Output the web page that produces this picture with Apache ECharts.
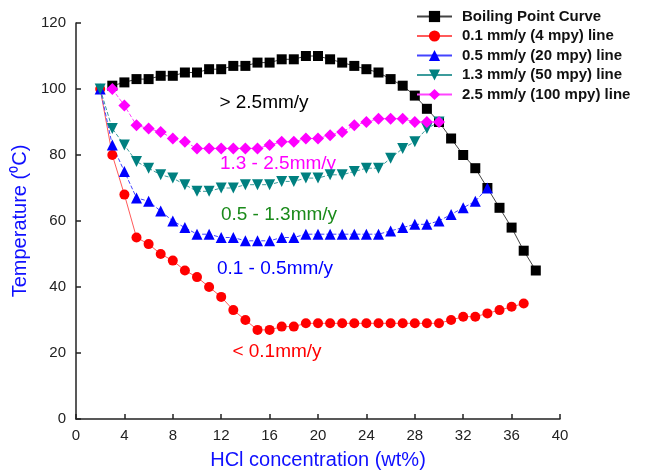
<!DOCTYPE html>
<html>
<head>
<meta charset="utf-8">
<script src="https://cdn.jsdelivr.net/npm/echarts@6/dist/echarts.min.js"></script>
<style>
html,body{margin:0;padding:0;background:#fff;}
#chart{width:646px;height:475px;}
</style>
</head>
<body>
<div id="chart"></div>
<script>
// ---- data ----
var seriesNames = ['Boiling Point Curve', '0.1 mm/y (4 mpy) line', '0.5 mm/y (20 mpy) line', '1.3 mm/y (50 mpy) line', '2.5 mm/y (100 mpy) line'];

var boilX = [3,4,5,6,7,8,9,10,11,12,13,14,15,16,17,18,19,20,21,22,23,24,25,26,27,28,29,30,31,32,33,34,35,36,37,38];
var boilY = [101,102,103,103,104,104,105,105,106,106,107,107,108,108,109,109,110,110,109,108,107,106,105,103,101,98,94,90,85,80,76,70,64,58,51,45];

var redX = [2,3,4,5,6,7,8,9,10,11,12,13,14,15,16,17,18,19,20,21,22,23,24,25,26,27,28,29,30,31,32,33,34,35,36,37];
var redY = [100,80,68,55,53,50,48,45,43,40,37,33,30,27,27,28,28,29,29,29,29,29,29,29,29,29,29,29,29,30,31,31,32,33,34,35];

var blueX = [2,3,4,5,6,7,8,9,10,11,12,13,14,15,16,17,18,19,20,21,22,23,24,25,26,27,28,29,30,31,32,33,34];
var blueY = [100,83,75,67,66,63,60,58,56,56,55,55,54,54,54,55,55,56,56,56,56,56,56,56,57,58,59,59,60,62,64,66,70];

var tealX = [2,3,4,5,6,7,8,9,10,11,12,13,14,15,16,17,18,19,20,21,22,23,24,25,26,27,28,29,30];
var tealY = [100,88,83,78,76,74,73,71,69,69,70,70,71,71,71,72,72,73,73,74,74,75,76,76,79,82,84,88,90];

var magX = [3,4,5,6,7,8,9,10,11,12,13,14,15,16,17,18,19,20,21,22,23,24,25,26,27,28,29,30];
var magY = [100,95,89,88,87,85,84,82,82,82,82,82,82,83,84,84,85,85,86,87,89,90,91,91,91,90,90,90];

var xTicks = [0,4,8,12,16,20,24,28,32,36,40];
var yTicks = [0,20,40,60,80,100,120];

var regionLabels = ['> 2.5mm/y', '1.3 - 2.5mm/y', '0.5 - 1.3mm/y', '0.1 - 0.5mm/y', '< 0.1mm/y'];

function pairs(xs, ys){ var out=[]; for(var i=0;i<xs.length;i++){ out.push([xs[i], ys[i]]); } return out; }

var FONT = '"Liberation Sans", Arial, sans-serif';
var chart = echarts.init(document.getElementById('chart'), null, {renderer:'canvas'});

function mkSeries(name, xs, ys, symbol, size, color, lineColor, lineType, rotate){
  return {
    name: name, type: 'line', data: pairs(xs, ys),
    symbol: symbol, symbolSize: size, symbolRotate: rotate || 0,
    itemStyle: {color: color},
    lineStyle: {color: lineColor, width: 1, type: lineType},
    showAllSymbol: true, animation: false
  };
}

var option = {
  animation: false,
  backgroundColor: '#fff',
  textStyle: {fontFamily: FONT},
  grid: {left: 76, right: 86, top: 23, bottom: 55, containLabel: false},
  legend: {
    orient: 'vertical', left: 411, top: 4,
    itemWidth: 35, itemHeight: 14, itemGap: 4.5,
    data: seriesNames,
    lineStyle: {type: 'solid'},
    textStyle: {fontFamily: FONT, fontWeight: 'bold', fontSize: 15, color: '#111', padding: [0,0,0,5]}
  },
  xAxis: {
    type: 'value', min: 0, max: 40, interval: 4,
    name: 'HCl concentration (wt%)', nameLocation: 'middle', nameGap: 31,
    nameTextStyle: {color: '#1010ff', fontSize: 20, fontFamily: FONT},
    axisLine: {show: true, lineStyle: {color: '#222', width: 1.5}},
    axisTick: {show: true, inside: true, length: 5, lineStyle: {color: '#222', width: 1.5}},
    axisLabel: {color: '#222', fontSize: 15, margin: 9, fontFamily: FONT,
      formatter: function(v){ return xTicks.indexOf(v) >= 0 ? String(v) : ''; }},
    splitLine: {show: false}
  },
  yAxis: {
    type: 'value', min: 0, max: 120, interval: 20,
    name: 'Temperature (\u2070C)', nameLocation: 'middle', nameGap: 35, nameRotate: 90,
    nameTextStyle: {color: '#1010ff', fontSize: 20, fontFamily: FONT},
    axisLine: {show: true, lineStyle: {color: '#222', width: 1.5}},
    axisTick: {show: true, inside: true, length: 5, lineStyle: {color: '#222', width: 1.5}},
    axisLabel: {color: '#222', fontSize: 15, margin: 10, fontFamily: FONT,
      formatter: function(v){ return yTicks.indexOf(v) >= 0 ? String(v) : ''; }},
    splitLine: {show: false}
  },
  series: [
    mkSeries(seriesNames[0], boilX, boilY, 'rect', 10, '#000000', '#444444', 'solid'),
    mkSeries(seriesNames[1], redX, redY, 'circle', 10, '#ff0000', '#ff5a5a', 'solid'),
    mkSeries(seriesNames[2], blueX, blueY, 'triangle', 11, '#0000ff', '#4444ff', 'dashed'),
    mkSeries(seriesNames[3], tealX, tealY, 'triangle', 11, '#008080', '#3c9c9c', 'dashed', 180),
    mkSeries(seriesNames[4], magX, magY, 'diamond', 12, '#ff00ff', '#ff44ff', 'dashed')
  ],
  graphic: [
    {type:'text', x:264, y:103, style:{text: regionLabels[0], fill:'#000', font:'19px ' + FONT, textAlign:'center', textVerticalAlign:'middle'}},
    {type:'text', x:278, y:164, style:{text: regionLabels[1], fill:'#ff00ff', font:'19px ' + FONT, textAlign:'center', textVerticalAlign:'middle'}},
    {type:'text', x:279, y:215, style:{text: regionLabels[2], fill:'#1a8a1a', font:'19px ' + FONT, textAlign:'center', textVerticalAlign:'middle'}},
    {type:'text', x:275, y:269, style:{text: regionLabels[3], fill:'#0000ff', font:'19px ' + FONT, textAlign:'center', textVerticalAlign:'middle'}},
    {type:'text', x:277, y:352, style:{text: regionLabels[4], fill:'#ff0000', font:'19px ' + FONT, textAlign:'center', textVerticalAlign:'middle'}}
  ]
};
chart.setOption(option);
</script>
</body>
</html>
